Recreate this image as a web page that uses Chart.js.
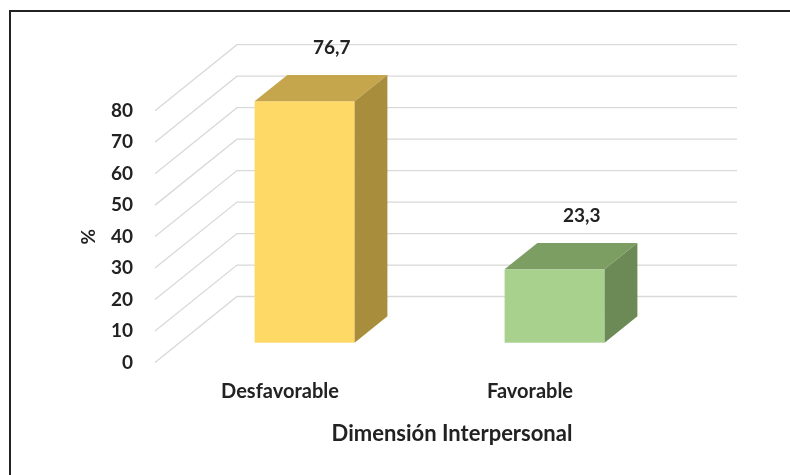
<!DOCTYPE html>
<html>
<head>
<meta charset="utf-8">
<script src="https://cdn.jsdelivr.net/npm/chart.js@4.4.1/dist/chart.umd.min.js"></script>
<style>
    html, body { margin: 0; padding: 0; background: #fff; overflow: hidden; }
    #frame { position: absolute; left: 9px; top: 10px; width: 800px; height: 500px; border: 2px solid #222; }
    #wrap { position: absolute; left: 0; top: 0; width: 790px; height: 475px; }
</style>
</head>
<body>
<div id="frame"></div>
<div id="wrap"><canvas id="bar-chart"></canvas></div>
<script>
const categories = ["Desfavorable", "Favorable"];
const percentages = [76.7, 23.3];
const valueLabels = ["76,7", "23,3"];
const axisTitle = 'Dimensión Interpersonal';
const frontColors = ['#FFD966', '#A9D18E'];
const topColors = ['#C6A64C', '#7D9E62'];
const sideColors = ['#A88E3C', '#6C8A56'];

// oblique depth of the floor, and where the bars sit inside it
const depth = { dx: 82, dy: -66, front: 0.3, back: 0.7 };

const textColor = '#222';
const fontFamily = 'Lato, "Open Sans", sans-serif';

// walls: diagonal lines on the left side and horizontal lines on the back
const wallsPlugin = {
    id: 'walls',
    beforeDatasetsDraw(chart) {
        const ctx = chart.ctx;
        const y = chart.scales.y;
        const area = chart.chartArea;
        ctx.save();
        ctx.strokeStyle = '#d9d9d9';
        ctx.lineWidth = 1.3;
        y.ticks.forEach(t => {
            const py = y.getPixelForValue(t.value);
            ctx.beginPath();
            ctx.moveTo(area.left, py);
            ctx.lineTo(area.left + depth.dx, py + depth.dy);
            ctx.lineTo(area.right + depth.dx, py + depth.dy);
            ctx.stroke();
        });
        ctx.restore();
    }
};

// draws each bar as a box instead of a flat rectangle
const boxesPlugin = {
    id: 'boxes',
    beforeDatasetDraw(chart, args) {
        const ctx = chart.ctx;
        const meta = args.meta;
        const sx = depth.front * depth.dx, sy = depth.front * depth.dy;
        const bx = (depth.back - depth.front) * depth.dx;
        const by = (depth.back - depth.front) * depth.dy;
        ctx.save();
        meta.data.forEach((bar, i) => {
            const p = bar.getProps(['x', 'y', 'base', 'width'], true);
            const l = p.x - p.width / 2 + sx, r = p.x + p.width / 2 + sx;
            const top = p.y + sy, bottom = p.base + sy;
            // front
            ctx.fillStyle = frontColors[i];
            ctx.fillRect(l, top, r - l, bottom - top);
            // top
            ctx.fillStyle = topColors[i];
            ctx.beginPath();
            ctx.moveTo(l, top);
            ctx.lineTo(r, top);
            ctx.lineTo(r + bx, top + by);
            ctx.lineTo(l + bx, top + by);
            ctx.closePath();
            ctx.fill();
            // side
            ctx.fillStyle = sideColors[i];
            ctx.beginPath();
            ctx.moveTo(r, top);
            ctx.lineTo(r + bx, top + by);
            ctx.lineTo(r + bx, bottom + by);
            ctx.lineTo(r, bottom);
            ctx.closePath();
            ctx.fill();
        });
        ctx.restore();
        return false;
    },
    afterDatasetsDraw(chart) {
        const ctx = chart.ctx;
        const meta = chart.getDatasetMeta(0);
        const area = chart.chartArea;
        ctx.save();
        ctx.fillStyle = textColor;
        ctx.font = 'bold 19px ' + fontFamily;
        ctx.textAlign = 'center';
        ctx.textBaseline = 'middle';
        meta.data.forEach((bar, i) => {
            const lx = bar.x + 0.63 * depth.dx;
            const ly = bar.y + 0.63 * depth.dy - 32;
            ctx.fillText(valueLabels[i], lx, ly);
        });
        // x axis title, centred over the floor including its depth
        ctx.font = 'bold 22px ' + fontFamily;
        ctx.fillText(axisTitle, (area.left + area.right + depth.dx) / 2 + 6, 434);
        ctx.restore();
    }
};

const chartData = {
    labels: categories,
    datasets: [{
        data: percentages,
        backgroundColor: frontColors,
        barPercentage: 0.4,
        categoryPercentage: 1
    }]
};

const chartOptions = {
    responsive: false,
    animation: false,
    layout: {
        padding: { left: 0, top: 110.7, right: 135, bottom: 0 }
    },
    scales: {
        x: {
            grid: { display: false, drawTicks: false },
            border: { display: false },
            ticks: {
                color: textColor,
                padding: 17,
                font: { family: fontFamily, size: 20, weight: 'bold' }
            },
            afterFit(scale) { scale.height = 112.5; }
        },
        y: {
            min: 0,
            max: 80,
            grid: { display: false, drawTicks: false },
            border: { display: false },
            ticks: {
                stepSize: 10,
                color: textColor,
                padding: 22,
                font: { family: fontFamily, size: 19, weight: 'bold' }
            },
            title: {
                display: true,
                text: '%',
                color: textColor,
                padding: { top: 77, bottom: 0 },
                font: { family: fontFamily, size: 19, weight: 'bold' }
            },
            afterFit(scale) { scale.width = 155; }
        }
    },
    plugins: {
        legend: { display: false },
        tooltip: { enabled: false }
    }
};

const canvas = document.getElementById('bar-chart');
canvas.width = 790;
canvas.height = 475;

let barChart = new Chart(canvas, {
    type: 'bar',
    data: chartData,
    options: chartOptions,
    plugins: [wallsPlugin, boxesPlugin]
});
</script>
</body>
</html>
